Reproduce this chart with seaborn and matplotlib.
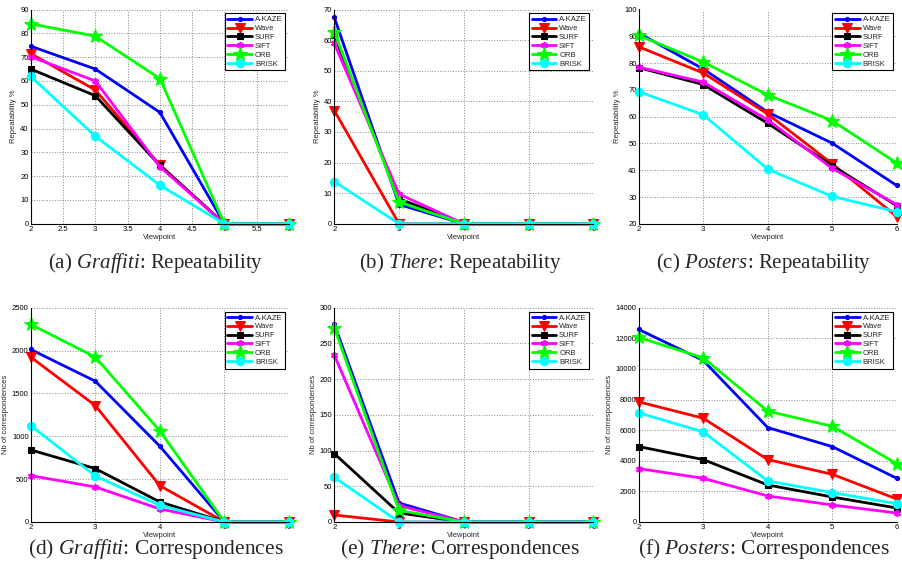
import numpy as np
import pandas as pd
import matplotlib
matplotlib.use('Agg')
import matplotlib.pyplot as plt
import seaborn as sns

sns.set_theme(style='white')
plt.rcParams['font.family'] = ['Liberation Sans', 'DejaVu Sans']
plt.rcParams['mathtext.fontset'] = 'custom'
plt.rcParams['mathtext.rm'] = 'Liberation Serif'
plt.rcParams['mathtext.it'] = 'Liberation Serif:italic'

viewpoints = [2, 3, 4, 5, 6]
methods = ['A-KAZE', 'Wave', 'SURF', 'SIFT', 'ORB', 'BRISK']

# repeatability %
graffiti_rep = {
    'A-KAZE': [74.6, 65.0, 46.8, 0, 0],
    'Wave':   [71.5, 56.2, 24.7, 0, 0],
    'SURF':   [65.0, 53.8, 24.5, 0, 0],
    'SIFT':   [70.2, 60.0, 24.0, 0, 0],
    'ORB':    [84.0, 78.8, 61.0, 0, 0],
    'BRISK':  [61.9, 36.8, 16.2, 0, 0],
}
there_rep = {
    'A-KAZE': [67.4, 6.3, 0, 0, 0],
    'Wave':   [37.0, 0, 0, 0, 0],
    'SURF':   [61.6, 8.2, 0, 0, 0],
    'SIFT':   [58.9, 9.7, 0, 0, 0],
    'ORB':    [62.7, 7.1, 0, 0, 0],
    'BRISK':  [13.8, 0, 0, 0, 0],
}
posters_rep = {
    'A-KAZE': [91.2, 77.8, 61.7, 50.1, 34.3],
    'Wave':   [86.1, 76.3, 61.0, 42.4, 22.7],
    'SURF':   [78.3, 72.0, 57.5, 41.7, 26.8],
    'SIFT':   [78.5, 72.9, 58.8, 40.7, 27.2],
    'ORB':    [90.3, 80.4, 68.1, 58.5, 42.7],
    'BRISK':  [69.3, 60.7, 40.4, 30.2, 24.5],
}

# number of correspondences
graffiti_cor = {
    'A-KAZE': [2013, 1643, 884, 0, 0],
    'Wave':   [1924, 1359, 424, 0, 0],
    'SURF':   [841, 623, 234, 0, 0],
    'SIFT':   [541, 409, 152, 0, 0],
    'ORB':    [2305, 1924, 1063, 0, 0],
    'BRISK':  [1125, 537, 195, 0, 0],
}
there_cor = {
    'A-KAZE': [277, 26.6, 0, 0, 0],
    'Wave':   [9.8, 0, 0, 0, 0],
    'SURF':   [95.8, 12.6, 0, 0, 0],
    'SIFT':   [233.6, 22.9, 0, 0, 0],
    'ORB':    [272, 16.4, 0, 0, 0],
    'BRISK':  [62.6, 0, 0, 0, 0],
}
posters_cor = {
    'A-KAZE': [12582, 10554, 6171, 4928, 2857],
    'Wave':   [7850, 6782, 4078, 3118, 1505],
    'SURF':   [4928, 4078, 2420, 1635, 916],
    'SIFT':   [3489, 2857, 1701, 1112, 589],
    'ORB':    [12059, 10728, 7240, 6258, 3816],
    'BRISK':  [7131, 5888, 2682, 1919, 1199],
}

captions = [
    r'(a) $\mathit{Graffiti}$: Repeatability',
    r'(b) $\mathit{There}$: Repeatability',
    r'(c) $\mathit{Posters}$: Repeatability',
    r'(d) $\mathit{Graffiti}$: Correspondences',
    r'(e) $\mathit{There}$: Correspondences',
    r'(f) $\mathit{Posters}$: Correspondences',
]

styles = {
    'A-KAZE': dict(color='#0000ff', marker='.', markersize=6),
    'Wave':   dict(color='#ff0000', marker='v', markersize=6.5),
    'SURF':   dict(color='#000000', marker='s', markersize=4.8),
    'SIFT':   dict(color='#ff00ff', marker=(6, 2, 0), markersize=5, markeredgewidth=1.2),
    'ORB':    dict(color='#00ff00', marker='*', markersize=10),
    'BRISK':  dict(color='#00ffff', marker='o', markersize=6),
}

panels = [
    (graffiti_rep, (0, 90), np.arange(0, 91, 10), np.arange(2, 6.01, 0.5), 'Repeatability %'),
    (there_rep, (0, 70), np.arange(0, 71, 10), np.arange(2, 7), 'Repeatability %'),
    (posters_rep, (20, 100), np.arange(20, 101, 10), np.arange(2, 7), 'Repeatability %'),
    (graffiti_cor, (0, 2500), np.arange(0, 2501, 500), np.arange(2, 7), 'Nb of correspondences'),
    (there_cor, (0, 300), np.arange(0, 301, 50), np.arange(2, 7), 'Nb of correspondences'),
    (posters_cor, (0, 14000), np.arange(0, 14001, 2000), np.arange(2, 7), 'Nb of correspondences'),
]

fig = plt.figure(figsize=(9.03, 5.77), dpi=100)
lefts = [30.7, 334.3, 638.7]
widths = [258.3, 259.0, 258.0]
tops = [9.5, 307.7]
H = 214.3
W, Hf = 903.0, 577.0

for i, (data, ylim, yticks, xticks, ylab) in enumerate(panels):
    r, c = divmod(i, 3)
    ax = fig.add_axes([lefts[c] / W, 1 - (tops[r] + H) / Hf, widths[c] / W, H / Hf])
    for m in methods:
        st = styles[m]
        sns.lineplot(x=viewpoints, y=data[m], ax=ax, linewidth=2, label=m,
                     sort=False, markeredgecolor=st['color'], clip_on=False, **st)
    ax.set_xlim(2, 6)
    ax.set_ylim(*ylim)
    ax.set_xticks(xticks)
    ax.set_yticks(yticks)
    if i == 0:
        ax.set_xticklabels([('%g' % t) for t in xticks])
    ax.tick_params(direction='in', length=2.5, width=0.6, labelsize=5.5, pad=1.5,
                   colors='black')
    ax.grid(True, linestyle=':', color='#888888', linewidth=0.7)
    for s in ['top', 'right']:
        ax.spines[s].set_visible(False)
    for s in ['left', 'bottom']:
        ax.spines[s].set_color('black')
        ax.spines[s].set_linewidth(0.8)
    ax.set_xlabel('Viewpoint', fontsize=5.5, labelpad=0.5)
    ax.set_ylabel(ylab, fontsize=5.5, labelpad=2)
    leg = ax.legend(loc='upper right', fontsize=5.5, frameon=True, fancybox=False,
                    edgecolor='black', framealpha=1, handlelength=3.2,
                    labelspacing=0.2, borderpad=0.35, handletextpad=0.4,
                    borderaxespad=0.5)
    leg.get_frame().set_linewidth(0.8)
    cx = (lefts[c] + widths[c] / 2 - 4) / W
    cy = 1 - (263 if r == 0 else 549) / Hf
    fig.text(cx, cy, captions[i], ha='center', va='center',
             fontsize=15 if r == 0 else 15.5, family='Liberation Serif')

fig.savefig('out.png', dpi=100)
